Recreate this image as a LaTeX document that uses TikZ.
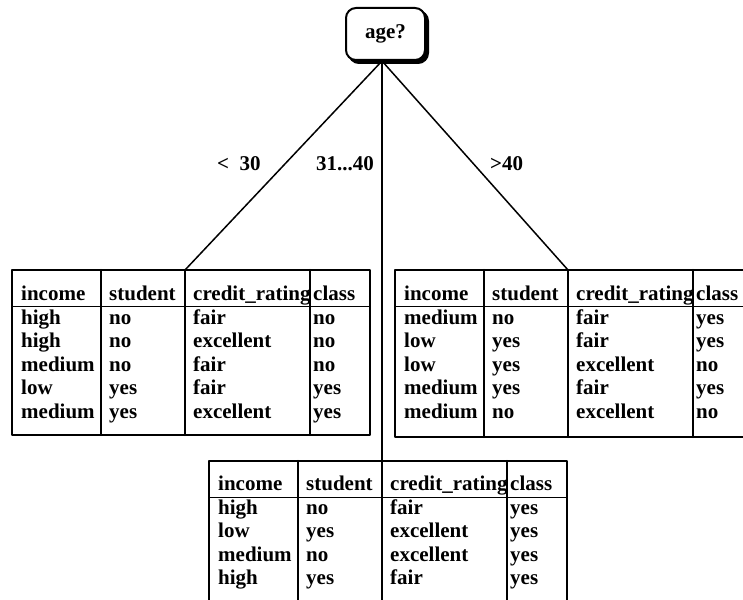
\documentclass[tikz,border=0pt]{standalone}
\usepackage{fontspec}
\setmainfont{Liberation Serif}
\usetikzlibrary{shadows}

\begin{document}
\begin{tikzpicture}[x=1pt,y=-1pt,line join=round,line cap=round]
\tikzset{
  cell/.style={anchor=base west,inner sep=0pt,font=\fontsize{21}{25}\selectfont\bfseries},
  frame/.style={draw,line width=2.2pt},
  head rule/.style={draw,line width=0.9pt},
  branch/.style={draw,line width=1.5pt},
  test box/.style={draw,line width=2pt,fill=white,rounded corners=10pt,
    minimum width=79pt,minimum height=52pt,inner sep=0pt,
    font=\fontsize{21}{25}\selectfont\bfseries,
    copy shadow={shadow xshift=3pt,shadow yshift=-3pt,fill=black,draw=black}}
}
\useasboundingbox (0,0) rectangle (743,599);
\clip (0,0) rectangle (743,599);

\node[test box] (age) at (385.5,34) {age?};

% age < 30
\begin{scope}[shift={(12,270)}]
\draw[frame] (0,0) rectangle (358,165);
\draw[head rule] (0,36) -- (358,36);
\foreach \cx in {89,173,298} \draw[frame] (\cx,0) -- (\cx,165);
\coordinate (young) at (173,0);
\foreach \a/\b/\c/\d [count=\i] in {income/student/credit\_rating/class,
    high/no/fair/no, high/no/excellent/no, medium/no/fair/no,
    low/yes/fair/yes, medium/yes/excellent/yes}{
  \node[cell] (young-\i-1) at (9,7+23.5*\i) {\a};
  \node[cell] (young-\i-2) at (97,7+23.5*\i) {\b};
  \node[cell] (young-\i-3) at (181,7+23.5*\i) {\c};
  \node[cell] (young-\i-4) at (301,7+23.5*\i) {\d};
}
\end{scope}

% age > 40
\begin{scope}[shift={(395,270)}]
\draw[frame] (0,0) rectangle (358,167);
\draw[head rule] (0,36) -- (358,36);
\foreach \cx in {89,173,298} \draw[frame] (\cx,0) -- (\cx,167);
\coordinate (senior) at (173,0);
\foreach \a/\b/\c/\d [count=\i] in {income/student/credit\_rating/class,
    medium/no/fair/yes, low/yes/fair/yes, low/yes/excellent/no,
    medium/yes/fair/yes, medium/no/excellent/no}{
  \node[cell] (senior-\i-1) at (9,7+23.5*\i) {\a};
  \node[cell] (senior-\i-2) at (97,7+23.5*\i) {\b};
  \node[cell] (senior-\i-3) at (181,7+23.5*\i) {\c};
  \node[cell] (senior-\i-4) at (301,7+23.5*\i) {\d};
}
\end{scope}

% age 31...40
\begin{scope}[shift={(209,461)}]
\draw[frame] (0,0) rectangle (358,142);
\draw[head rule] (0,36) -- (358,36);
\foreach \cx in {89,173,298} \draw[frame] (\cx,0) -- (\cx,142);
\coordinate (middle) at (173,0);
\foreach \a/\b/\c/\d [count=\i] in {income/student/credit\_rating/class,
    high/no/fair/yes, low/yes/excellent/yes, medium/no/excellent/yes,
    high/yes/fair/yes}{
  \node[cell] (middle-\i-1) at (9,6+23.5*\i) {\a};
  \node[cell] (middle-\i-2) at (97,6+23.5*\i) {\b};
  \node[cell] (middle-\i-3) at (181,6+23.5*\i) {\c};
  \node[cell] (middle-\i-4) at (301,6+23.5*\i) {\d};
}
\end{scope}

\coordinate (fork) at (age.south -| middle);
\draw[branch] (fork) -- (young);
\draw[branch] (fork) -- (middle);
\draw[branch] (fork) -- (senior);

\node[cell] (lt30) at (217,170) {<\ \ 30};
\node[cell] (mid) at (316,170) {31...40};
\node[cell] (gt40) at (490,170) {>40};

\end{tikzpicture}
\end{document}
